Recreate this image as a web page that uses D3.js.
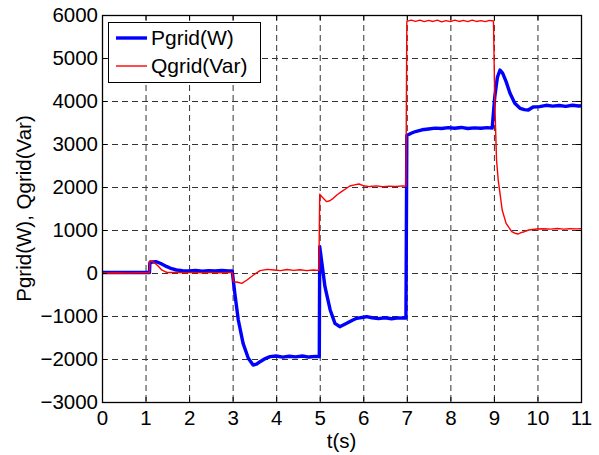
<!DOCTYPE html>
<html>
<head>
<meta charset="utf-8">
<script src="https://cdn.jsdelivr.net/npm/d3@7"></script>
<style>
  body { margin: 0; background: #fff; }
  svg { display: block; }
  text { font-family: "Liberation Sans", Arial, sans-serif; }
</style>
</head>
<body>
<svg id="chart" width="599" height="455"></svg>
<script>
// [t (s), value]
const pgrid = [
  [0, 10], [0.3, 15], [0.6, 10], [0.9, 15], [1.09, 10], [1.1, 240], [1.15, 255], [1.25, 263],
  [1.35, 220], [1.49, 147], [1.6, 100], [1.71, 70], [1.85, 55], [2.0, 45], [2.15, 60], [2.3, 40],
  [2.45, 55], [2.6, 45], [2.75, 58], [2.9, 45], [2.99, 50], [3.05, -473], [3.13, -1093],
  [3.24, -1636], [3.36, -1984], [3.47, -2140], [3.55, -2120], [3.63, -2062], [3.75, -1990],
  [3.86, -1946], [4.0, -1930], [4.15, -1955], [4.3, -1935], [4.45, -1950], [4.6, -1930],
  [4.75, -1955], [4.9, -1940], [4.99, -1945], [5.0, 612], [5.04, 302], [5.12, -318], [5.24, -860],
  [5.35, -1170], [5.46, -1248], [5.62, -1170], [5.75, -1100], [5.85, -1054], [6.0, -1030],
  [6.08, -1016], [6.2, -1040], [6.35, -1060], [6.5, -1040], [6.65, -1065], [6.8, -1045],
  [6.98, -1050], [7.0, 3200], [7.1, 3250], [7.2, 3290], [7.35, 3330], [7.5, 3350], [7.65, 3370],
  [7.8, 3360], [7.95, 3380], [8.1, 3365], [8.25, 3385], [8.4, 3360], [8.55, 3375], [8.7, 3365],
  [8.85, 3380], [8.96, 3370], [9.02, 4100], [9.08, 4550], [9.14, 4720], [9.2, 4650], [9.28, 4450],
  [9.37, 4179], [9.48, 3946], [9.6, 3830], [9.7, 3800], [9.79, 3790], [9.9, 3860], [10.05, 3870],
  [10.2, 3900], [10.35, 3880], [10.5, 3895], [10.65, 3875], [10.8, 3900], [10.95, 3885], [11, 3890]
];

const qgrid = [
  [0, 0], [0.3, 5], [0.6, 0], [0.9, 5], [1.09, 5], [1.1, 286], [1.16, 270], [1.22, 225], [1.3, 150],
  [1.37, 70], [1.45, 30], [1.52, 10], [1.7, 15], [1.9, 5], [2.1, 15], [2.3, 5], [2.5, 15], [2.7, 5],
  [2.9, 12], [2.99, 10], [3.02, -202], [3.12, -215], [3.21, -240], [3.33, -163], [3.48, -47],
  [3.63, 54], [3.8, 85], [3.95, 70], [4.1, 54], [4.25, 80], [4.4, 60], [4.55, 75], [4.7, 55],
  [4.85, 70], [4.98, 60], [5.0, 1830], [5.06, 1760], [5.16, 1659], [5.23, 1680], [5.31, 1736],
  [5.4, 1820], [5.5, 1891], [5.6, 1960], [5.69, 2023], [5.8, 2050], [5.9, 2070], [6.0, 2030],
  [6.15, 2010], [6.3, 2025], [6.45, 2005], [6.6, 2020], [6.75, 2010], [6.9, 2025], [6.98, 2020],
  [7.0, 5850], [7.1, 5880], [7.2, 5850], [7.3, 5880], [7.4, 5845], [7.5, 5875], [7.6, 5850],
  [7.7, 5880], [7.8, 5840], [7.9, 5870], [8.0, 5845], [8.1, 5880], [8.2, 5850], [8.3, 5875],
  [8.4, 5845], [8.5, 5880], [8.6, 5850], [8.7, 5870], [8.8, 5845], [8.9, 5875], [8.99, 5860],
  [9.02, 4000], [9.06, 2628], [9.1, 2150], [9.14, 1853], [9.19, 1465], [9.28, 1155], [9.41, 961],
  [9.48, 925], [9.56, 907], [9.62, 940], [9.7, 960], [9.8, 1000], [9.98, 1023], [10.15, 1030],
  [10.3, 1020], [10.45, 1035], [10.6, 1020], [10.75, 1030], [10.9, 1025], [11, 1030]
];

const xTicks = [0, 1, 2, 3, 4, 5, 6, 7, 8, 9, 10, 11];
const yTicks = [-3000, -2000, -1000, 0, 1000, 2000, 3000, 4000, 5000, 6000];
const legendLabels = ['Pgrid(W)', 'Qgrid(Var)'];

const margin = { top: 15, right: 18, bottom: 53, left: 102 };
const width = 599 - margin.left - margin.right;
const height = 455 - margin.top - margin.bottom;

const svg = d3.select('#chart');
const g = svg.append('g').attr('transform', `translate(${margin.left},${margin.top})`);

const x = d3.scaleLinear().domain([0, 11]).range([0, width]);
const y = d3.scaleLinear().domain([-3000, 6000]).range([height, 0]);

// dashed grid, inner ticks only
const grid = g.append('g').attr('class', 'grid')
  .attr('stroke', '#333').attr('stroke-width', 1).attr('stroke-dasharray', '6,4');
grid.selectAll('.gx').data(xTicks.slice(1, -1)).enter().append('line')
  .attr('x1', d => x(d) + 0.5).attr('x2', d => x(d) + 0.5)
  .attr('y1', 0).attr('y2', height);
grid.selectAll('.gy').data(yTicks.slice(1, -1)).enter().append('line')
  .attr('x1', 0).attr('x2', width)
  .attr('y1', d => y(d) + 0.5).attr('y2', d => y(d) + 0.5);

// series
const line = d3.line().x(d => x(d[0])).y(d => y(d[1]));
g.append('path').datum(pgrid)
  .attr('fill', 'none').attr('stroke', '#0000ff').attr('stroke-width', 3.4)
  .attr('stroke-linejoin', 'round').attr('d', line);
g.append('path').datum(qgrid)
  .attr('fill', 'none').attr('stroke', '#ff0000').attr('stroke-width', 1.4)
  .attr('stroke-linejoin', 'round').attr('d', line);

// axes (MATLAB style: ticks point inward on all four sides)
const styleAxis = sel => {
  sel.select('.domain').remove();
  sel.selectAll('line').attr('stroke', '#000');
  sel.selectAll('text').attr('font-size', 20.5).attr('fill', '#000')
    .attr('font-family', '"Liberation Sans", Arial, sans-serif');
};

g.append('g').attr('transform', `translate(0,${height})`)
  .call(d3.axisBottom(x).tickValues(xTicks).tickSize(-5).tickPadding(8).tickFormat(d3.format('d')))
  .call(styleAxis);
g.append('g')
  .call(d3.axisTop(x).tickValues(xTicks).tickSize(-5).tickFormat(''))
  .call(styleAxis);
g.append('g')
  .call(d3.axisLeft(y).tickValues(yTicks).tickSize(-5).tickPadding(4).tickFormat(d3.format('d')))
  .call(styleAxis);
g.append('g').attr('transform', `translate(${width},0)`)
  .call(d3.axisRight(y).tickValues(yTicks).tickSize(-5).tickFormat(''))
  .call(styleAxis);

g.append('rect')
  .attr('x', 0.5).attr('y', 0.5).attr('width', width).attr('height', height)
  .attr('fill', 'none').attr('stroke', '#000').attr('stroke-width', 1.3);

// axis titles
svg.append('text')
  .attr('x', margin.left + width / 2).attr('y', 448)
  .attr('text-anchor', 'middle').attr('font-size', 20.5)
  .text('t(s)');
svg.append('text')
  .attr('transform', `translate(31,${margin.top + height / 2}) rotate(-90)`)
  .attr('text-anchor', 'middle').attr('font-size', 20.5)
  .text('Pgrid(W),  Qgrid(Var)');

// legend
const legend = svg.append('g').attr('transform', 'translate(108,22)');
legend.append('rect')
  .attr('x', 0.5).attr('y', 0.5).attr('width', 152).attr('height', 60)
  .attr('fill', '#fff').attr('stroke', '#000').attr('stroke-width', 1);
const colors = ['#0000ff', '#ff0000'];
const widths = [3.4, 1.4];
legendLabels.forEach((label, i) => {
  const cy = 16 + i * 28;
  legend.append('line')
    .attr('x1', 8).attr('x2', 39).attr('y1', cy).attr('y2', cy)
    .attr('stroke', colors[i]).attr('stroke-width', widths[i]);
  legend.append('text')
    .attr('x', 43).attr('y', cy + 7).attr('font-size', 21)
    .text(label);
});
</script>
</body>
</html>
